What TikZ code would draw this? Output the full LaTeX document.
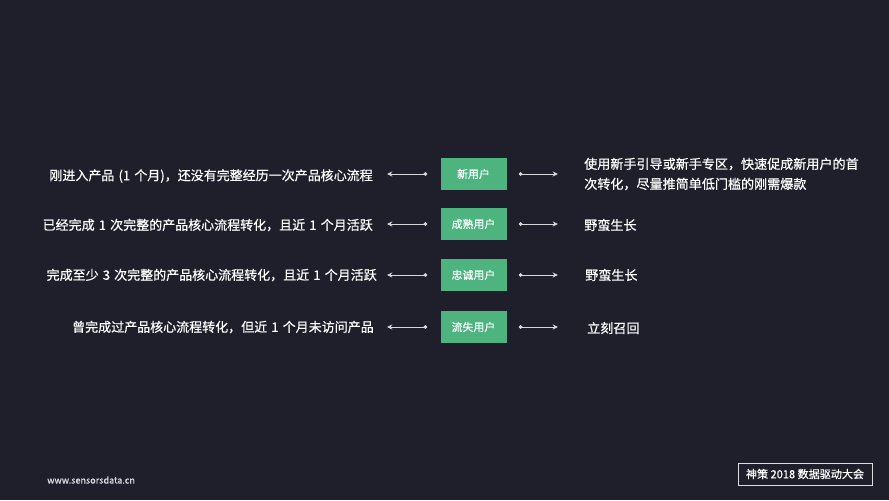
\documentclass[tikz,border=0pt]{standalone}
\usepackage{fontspec}
\setmainfont{Noto Sans CJK SC}[FakeBold=0.6]
\usepackage{tikz}
\usetikzlibrary{positioning, arrows.meta}
\usepackage{xcolor}
\definecolor{bgnavy}{HTML}{1E1F2B}
\definecolor{usergreen}{HTML}{4DB47F}
\definecolor{linegray}{HTML}{D8D8DC}
\newcommand{\nsp}{\hspace{0.32em}}

\begin{document}
\begin{tikzpicture}[x=0.75pt, y=-0.75pt,
    usr/.style={rectangle, fill=usergreen, minimum width=49.5pt, minimum height=24.5pt,
                inner sep=0pt, text=white, font=\fontsize{8.2}{9}\selectfont},
    desc/.style={anchor=east, inner sep=0pt, text=white, font=\fontsize{9.75}{11}\selectfont},
    todo/.style={anchor=west, inner sep=0pt, text=white, align=left,
                 font=\fontsize{9.8}{15}\selectfont},
    link/.style={draw=linegray, line width=0.7pt, {Circle[length=2.8pt]}-{Stealth[length=4pt, width=3.8pt]}},
    >=stealth
]
% Background
\fill[bgnavy] (0,0) rectangle (889,500);
\useasboundingbox (0,0) rectangle (889,500);

% User types
\node[usr] (newu) at (473.5,174) {新用户};
\node[usr] (matu) at (473.5,224) {成熟用户};
\node[usr] (loyu) at (473.5,275) {忠诚用户};
\node[usr] (lstu) at (473.5,327) {流失用户};

% Definitions
\node[desc] (newd) at (373,176) {刚进入产品\nsp(1\nsp 个月)，还没有完整经历一次产品核心流程};
\node[desc] (matd) at (373,225) {已经完成\nsp 1\nsp 次完整的产品核心流程转化，且近\nsp 1\nsp 个月活跃};
\node[desc] (loyd) at (377,275) {完成至少\nsp 3\nsp 次完整的产品核心流程转化，且近\nsp 1\nsp 个月活跃};
\node[desc] (lstd) at (374,327) {曾完成过产品核心流程转化，但近\nsp 1\nsp 个月未访问产品};

% Strategies
\node[todo] (news) at (584,174) {使用新手引导或新手专区，快速促成新用户的首\\次转化，尽量推简单低门槛的刚需爆款};
\node[todo] (mats) at (584,225) {野蛮生长};
\node[todo] (loys) at (585,275) {野蛮生长};
\node[todo] (lsts) at (587,328) {立刻召回};

% Connectors
\draw[link, shorten <=13pt*0.75, shorten >=14pt*0.75] (newu.west) -- (newd.east |- newu.west);
\draw[link, shorten <=13pt*0.75, shorten >=14pt*0.75] (matu.west) -- (matd.east |- matu.west);
\draw[link, shorten <=13pt*0.75, shorten >=10pt*0.75] (loyu.west) -- (loyd.east |- loyu.west);
\draw[link, shorten <=13pt*0.75, shorten >=13pt*0.75] (lstu.west) -- (lstd.east |- lstu.west);
\draw[link, shorten <=12pt*0.75, shorten >=26pt*0.75] (newu.east) -- (news.west |- newu.east);
\draw[link, shorten <=12pt*0.75, shorten >=26pt*0.75] (matu.east) -- (mats.west |- matu.east);
\draw[link, shorten <=12pt*0.75, shorten >=27pt*0.75] (loyu.east) -- (loys.west |- loyu.east);
\draw[link, shorten <=12pt*0.75, shorten >=29pt*0.75] (lstu.east) -- (lsts.west |- lstu.east);

% Footer
\node[anchor=west, inner sep=0pt, text=white!85!bgnavy, font=\fontsize{6.8}{8}\selectfont]
    (site) at (47,480) {www.sensorsdata.cn};
\node[draw=white!85!bgnavy, line width=0.6pt, text=white, inner sep=0pt,
      minimum width=100.5pt, minimum height=16.5pt, font=\fontsize{8.3}{9}\selectfont]
    (conf) at (805,474) {神策 2018 数据驱动大会};
\end{tikzpicture}
\end{document}
